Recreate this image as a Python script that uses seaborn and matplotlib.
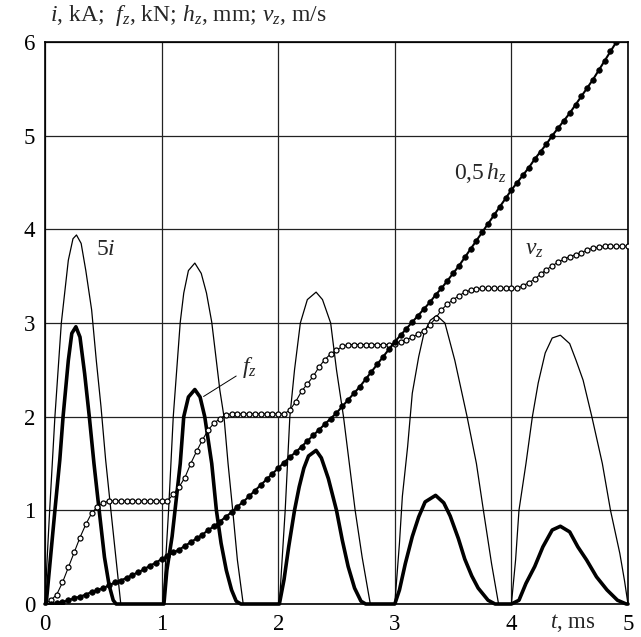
import numpy as np
import pandas as pd
import matplotlib
matplotlib.use("Agg")
import matplotlib.pyplot as plt
import seaborn as sns

# ---------------- data ----------------
T_GRID = [0.00, 0.05, 0.10, 0.15, 0.20, 0.25, 0.30, 0.35, 0.40, 0.45,
          0.50, 0.55, 0.60, 0.65, 0.70, 0.75, 0.80, 0.85, 0.90, 0.95,
          1.00, 1.05, 1.10, 1.15, 1.20, 1.25, 1.30, 1.35, 1.40, 1.45,
          1.50, 1.55, 1.60, 1.65, 1.70, 1.75, 1.80, 1.85, 1.90, 1.95,
          2.00, 2.05, 2.10, 2.15, 2.20, 2.25, 2.30, 2.35, 2.40, 2.45,
          2.50, 2.55, 2.60, 2.65, 2.70, 2.75, 2.80, 2.85, 2.90, 2.95,
          3.00, 3.05, 3.10, 3.15, 3.20, 3.25, 3.30, 3.35, 3.40, 3.45,
          3.50, 3.55, 3.60, 3.65, 3.70, 3.75, 3.80, 3.85, 3.90, 3.95,
          4.00, 4.05, 4.10, 4.15, 4.20, 4.25, 4.30, 4.35, 4.40, 4.45,
          4.50, 4.55, 4.60, 4.65, 4.70, 4.75, 4.80, 4.85, 4.90, 4.95,
          5.00]

V_Z = [0.00, 0.04, 0.10, 0.23, 0.39, 0.55, 0.71, 0.85, 0.97, 1.04,
       1.08, 1.10, 1.10, 1.10, 1.10, 1.10, 1.10, 1.10, 1.10, 1.10,
       1.10, 1.10, 1.17, 1.25, 1.35, 1.50, 1.63, 1.75, 1.86, 1.93,
       1.98, 2.02, 2.03, 2.03, 2.03, 2.03, 2.03, 2.03, 2.03, 2.03,
       2.03, 2.03, 2.07, 2.16, 2.27, 2.35, 2.43, 2.53, 2.61, 2.67,
       2.71, 2.75, 2.77, 2.77, 2.77, 2.77, 2.77, 2.77, 2.77, 2.77,
       2.78, 2.80, 2.82, 2.85, 2.88, 2.92, 2.98, 3.05, 3.14, 3.20,
       3.25, 3.29, 3.33, 3.35, 3.36, 3.37, 3.37, 3.37, 3.37, 3.37,
       3.37, 3.37, 3.40, 3.43, 3.47, 3.52, 3.57, 3.61, 3.65, 3.68,
       3.71, 3.73, 3.75, 3.78, 3.80, 3.81, 3.82, 3.82, 3.82, 3.82,
       3.82]

H_Z_HALF = [0.00, 0.00, 0.01, 0.02, 0.04, 0.06, 0.08, 0.10, 0.13, 0.15,
            0.17, 0.20, 0.23, 0.25, 0.28, 0.31, 0.34, 0.37, 0.41, 0.44,
            0.48, 0.51, 0.55, 0.58, 0.62, 0.66, 0.70, 0.74, 0.79, 0.83,
            0.88, 0.93, 0.98, 1.04, 1.09, 1.15, 1.21, 1.27, 1.33, 1.39,
            1.45, 1.51, 1.57, 1.62, 1.68, 1.74, 1.80, 1.86, 1.92, 1.98,
            2.04, 2.11, 2.18, 2.25, 2.32, 2.40, 2.48, 2.56, 2.64, 2.72,
            2.80, 2.87, 2.94, 3.01, 3.08, 3.15, 3.22, 3.30, 3.37, 3.45,
            3.53, 3.61, 3.70, 3.79, 3.88, 3.97, 4.06, 4.15, 4.24, 4.33,
            4.42, 4.50, 4.58, 4.66, 4.75, 4.83, 4.91, 5.00, 5.08, 5.16,
            5.24, 5.33, 5.42, 5.51, 5.60, 5.70, 5.80, 5.90, 6.00, 6.10,
            6.20]

T_I = [0.00, 0.015, 0.04, 0.085, 0.14, 0.20, 0.24, 0.27, 0.31, 0.35, 0.40, 0.44, 0.48, 0.52, 0.565, 0.61, 0.65,
       1.01, 1.03, 1.06, 1.10, 1.16, 1.19, 1.23, 1.285, 1.34, 1.385, 1.43, 1.455, 1.50, 1.535, 1.57, 1.61, 1.65, 1.70,
       2.01, 2.035, 2.06, 2.10, 2.14, 2.19, 2.25, 2.325, 2.38, 2.45, 2.50, 2.56, 2.61, 2.66, 2.72, 2.79,
       3.00, 3.04, 3.065, 3.11, 3.15, 3.205, 3.25, 3.305, 3.36, 3.43, 3.515, 3.62, 3.70, 3.76, 3.83, 3.89,
       4.00, 4.036, 4.065, 4.125, 4.18, 4.23, 4.29, 4.35, 4.42, 4.50, 4.555, 4.615, 4.69, 4.78, 4.85, 4.93, 4.97, 5.00]
I_5 = [0.00, 0.40, 1.00, 2.00, 3.00, 3.67, 3.90, 3.94, 3.85, 3.56, 3.14, 2.60, 2.11, 1.54, 1.00, 0.47, 0.00,
       0.00, 0.36, 1.00, 2.00, 3.01, 3.32, 3.56, 3.64, 3.53, 3.32, 3.01, 2.75, 2.28, 2.00, 1.50, 1.00, 0.47, 0.00,
       0.00, 0.50, 1.00, 2.00, 2.50, 3.00, 3.25, 3.33, 3.25, 3.00, 2.50, 2.00, 1.50, 1.00, 0.50, 0.00,
       0.00, 0.65, 1.15, 1.68, 2.25, 2.64, 2.89, 3.03, 3.08, 3.00, 2.60, 2.00, 1.50, 1.00, 0.43, 0.00,
       0.00, 0.47, 1.00, 1.50, 2.00, 2.36, 2.68, 2.84, 2.87, 2.78, 2.60, 2.39, 2.00, 1.50, 1.00, 0.54, 0.25, 0.00]

T_F = [0.00, 0.01, 0.04, 0.085, 0.127, 0.155, 0.20, 0.23, 0.265, 0.30, 0.34, 0.38, 0.42, 0.46, 0.51, 0.55, 0.585, 0.61,
       1.02, 1.045, 1.09, 1.115, 1.16, 1.19, 1.23, 1.285, 1.33, 1.37, 1.43, 1.47, 1.51, 1.555, 1.60, 1.64, 1.68,
       2.01, 2.05, 2.09, 2.14, 2.18, 2.22, 2.26, 2.325, 2.37, 2.43, 2.50, 2.55, 2.60, 2.655, 2.71, 2.75,
       3.00, 3.04, 3.09, 3.15, 3.205, 3.26, 3.35, 3.42, 3.475, 3.545, 3.60, 3.66, 3.715, 3.80, 3.86,
       4.00, 4.065, 4.125, 4.20, 4.27, 4.35, 4.42, 4.50, 4.57, 4.645, 4.73, 4.82, 4.91, 4.985, 5.00]
F_Z = [0.00, 0.00, 0.40, 1.00, 1.54, 2.00, 2.60, 2.89, 2.96, 2.85, 2.46, 2.00, 1.50, 1.05, 0.50, 0.20, 0.04, 0.00,
       0.00, 0.36, 0.72, 1.00, 1.50, 2.00, 2.21, 2.29, 2.21, 2.00, 1.50, 1.00, 0.65, 0.36, 0.15, 0.03, 0.00,
       0.00, 0.26, 0.61, 1.00, 1.25, 1.45, 1.58, 1.64, 1.56, 1.34, 1.00, 0.68, 0.40, 0.17, 0.03, 0.00,
       0.00, 0.15, 0.43, 0.72, 0.93, 1.09, 1.16, 1.08, 0.94, 0.70, 0.48, 0.30, 0.17, 0.04, 0.00,
       0.00, 0.04, 0.22, 0.40, 0.61, 0.79, 0.83, 0.77, 0.61, 0.47, 0.29, 0.15, 0.04, 0.00, 0.00]

X_TICKS = [0, 1, 2, 3, 4, 5]
Y_TICKS = [0, 1, 2, 3, 4, 5, 6]
Y_TITLE = r"$i$, kA;  $f_z$, kN; $h_z$, mm; $v_z$, m/s"
X_TITLE = r"$t$, ms"

# ---------------- style ----------------
sns.set_theme(style="white")
plt.rcParams["font.family"] = ["Liberation Serif", "DejaVu Serif"]
plt.rcParams["mathtext.fontset"] = "custom"
plt.rcParams["mathtext.rm"] = "Liberation Serif"
plt.rcParams["mathtext.it"] = "Liberation Serif:italic"
plt.rcParams["mathtext.bf"] = "Liberation Serif:bold"

FS_TICK = 16.5
FS_TEXT = 17

fig = plt.figure(figsize=(6.41, 6.37), dpi=100)
ax = fig.add_axes([0.0702, 0.0518, 0.9095, 0.8822])

df_grid = pd.DataFrame({"t": T_GRID, "v": V_Z, "h": H_Z_HALF})
df_i = pd.DataFrame({"t": T_I, "i5": I_5})
df_f = pd.DataFrame({"t": T_F, "f": F_Z})

# 5i : thin line
sns.lineplot(data=df_i, x="t", y="i5", ax=ax, color="black", linewidth=0.9,
             clip_on=False, zorder=3)
# f_z : thick line
sns.lineplot(data=df_f, x="t", y="f", ax=ax, color="black", linewidth=2.6,
             clip_on=False, zorder=4)
# v_z : thin line with hollow circles
sns.lineplot(data=df_grid, x="t", y="v", ax=ax, color="black", linewidth=0.8,
             marker="o", markersize=3.6, markerfacecolor="white",
             markeredgecolor="black", markeredgewidth=0.9, zorder=5)
# 0.5 h_z : line with filled circles
sns.lineplot(data=df_grid, x="t", y="h", ax=ax, color="black", linewidth=1.5,
             marker="o", markersize=4.0, markerfacecolor="black",
             markeredgecolor="black", markeredgewidth=0.5, zorder=6)

ax.set_xlim(0, 5)
ax.set_ylim(0, 6)
ax.set_xticks(X_TICKS)
ax.set_yticks(Y_TICKS)
ax.set_xticklabels([str(v) for v in X_TICKS])
ax.set_yticklabels([str(v) for v in Y_TICKS])
ax.set_xlabel("")
ax.set_ylabel("")
ax.tick_params(axis="both", which="both", direction="out", length=4, width=1,
               colors="black", labelsize=FS_TICK, pad=3)
ax.grid(True, color="#222222", linewidth=0.9)
ax.set_axisbelow(True)
for s in ax.spines.values():
    s.set_color("black")
    s.set_linewidth(1.2)

# annotations
ax.text(0.44, 3.78, r"5$i$", fontsize=FS_TEXT, ha="left", va="center", zorder=7)
ax.text(1.69, 2.52, r"$f_z$", fontsize=FS_TEXT, ha="left", va="center", zorder=7)
ax.annotate("", xy=(1.34, 2.20), xytext=(1.66, 2.45),
            arrowprops=dict(arrowstyle="-", color="black", lw=0.7), zorder=7)
ax.text(3.96, 4.60, r"0,5$\,h_z$", fontsize=FS_TEXT, ha="right", va="center", zorder=7)
ax.text(4.12, 3.78, r"$v_z$", fontsize=FS_TEXT, ha="left", va="center", zorder=7)

# axis titles
fig.text(50 / 641, 1 - 21 / 637, Y_TITLE, fontsize=FS_TEXT, ha="left", va="baseline")
ax.text(4.53, -0.014, X_TITLE, transform=ax.get_xaxis_transform(),
        fontsize=FS_TICK, ha="center", va="top")

fig.savefig("out.png", dpi=100)
